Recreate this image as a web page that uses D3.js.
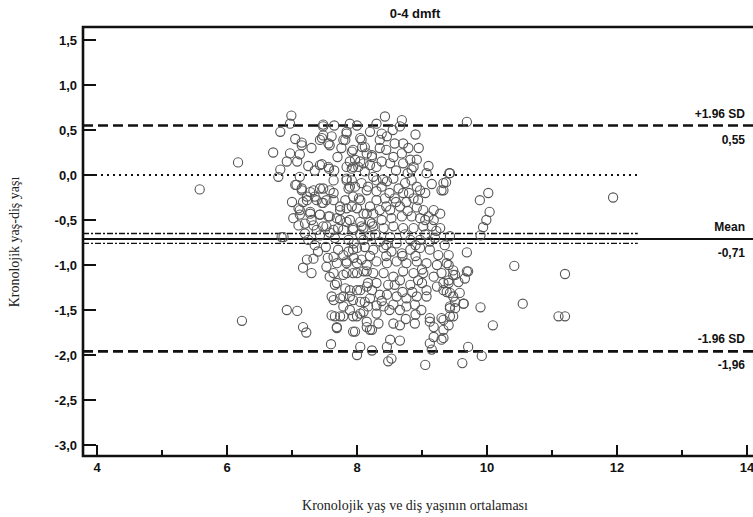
<!DOCTYPE html>
<html>
<head>
<meta charset="utf-8">
<script src="https://cdn.jsdelivr.net/npm/d3@7"></script>
<style>
  body { margin: 0; background: #fff; }
  svg text { font-family: "Liberation Sans", Arial, sans-serif; }
  .serif { font-family: "Liberation Serif", "Times New Roman", serif !important; }
</style>
</head>
<body>
<svg id="chart"></svg>
<script>
// Bland-Altman: mean of chronological and dental age vs. their difference
let title = '0-4 dmft'
let xTitle = 'Kronolojik yaş ve diş yaşının ortalaması'
let yTitle = 'Kronolojik yaş-diş yaşı'

let xTicks = [4, 6, 8, 10, 12, 14]
let xMinorTicks = [5, 7, 9, 11, 13]
let yTicks = [1.5, 1.0, 0.5, 0.0, -0.5, -1.0, -1.5, -2.0, -2.5, -3.0]

let meanDiff = -0.71
let upperLimit = 0.55
let lowerLimit = -1.96
let meanCI = [-0.65, -0.76]
let lineEnd = 12.32 // dotted / dash-dot lines stop here

// [average age, difference]
let points = [
  [6.99, 0.66], [6.97, 0.57], [6.82, 0.48], [7.05, 0.40], [7.15, 0.36], [6.71, 0.25],
  [6.97, 0.24], [7.12, 0.23], [6.92, 0.15], [7.08, 0.15], [6.17, 0.14], [6.82, 0.06],
  [7.46, 0.12], [7.57, 0.07], [7.48, 0.54], [7.46, 0.41], [7.61, 0.43], [7.56, 0.35],
  [7.89, 0.57], [7.84, 0.48], [7.79, 0.39], [7.94, 0.28], [8.07, 0.39], [8.12, 0.31],
  [5.58, -0.16], [6.79, -0.02], [7.05, -0.11], [7.15, -0.15], [7.23, -0.24], [7.33, -0.17],
  [7.48, -0.15], [7.64, -0.20], [7.12, -0.39], [7.28, -0.41], [7.17, -0.30], [7.10, -0.56],
  [7.38, -0.28], [7.48, -0.31], [7.64, -0.28], [7.74, -0.39], [7.69, -0.48], [7.56, -0.46],
  [7.43, -0.44], [7.30, -0.50], [7.38, -0.61], [7.53, -0.57], [7.71, -0.59], [7.84, -0.52],
  [7.92, -0.35], [8.05, -0.28], [8.15, -0.43], [8.23, -0.54], [7.94, -0.61], [8.07, -0.57],
  [8.17, -0.13], [8.25, -0.02], [7.89, -0.13], [7.84, -0.06], [7.94, 0.09], [8.05, 0.15],
  [8.12, 0.04], [7.84, 0.09], [8.23, 0.22], [6.84, -0.69],
  [7.48, 0.56], [8.30, 0.57], [8.43, 0.65], [8.69, 0.61], [8.66, 0.54], [9.69, 0.59],
  [7.48, 0.44], [7.43, 0.39], [7.58, 0.33], [7.15, 0.33], [7.84, 0.46], [7.82, 0.39],
  [7.76, 0.30], [7.92, 0.26], [8.05, 0.41], [8.08, 0.31], [7.97, 0.17], [8.15, 0.24],
  [8.23, 0.20], [8.35, 0.39], [8.35, 0.30], [8.46, 0.43], [8.38, 0.46], [8.71, 0.35],
  [8.79, 0.30], [8.69, 0.24], [8.82, 0.17], [8.71, 0.13], [8.87, 0.09], [8.92, 0.17],
  [8.84, 0.06], [8.56, 0.20], [8.51, 0.13], [8.38, 0.15], [8.30, 0.09], [8.20, 0.11],
  [8.10, 0.13], [8.02, 0.09], [7.92, 0.07], [7.89, 0.15], [7.43, 0.11], [7.56, 0.09],
  [9.07, 0.02], [9.43, 0.02], [9.33, -0.09], [9.30, -0.17],
  [7.12, -0.02], [7.07, -0.11], [7.15, -0.17], [7.28, -0.19], [7.23, -0.28], [7.35, -0.24],
  [7.43, -0.15], [7.58, -0.17], [7.53, -0.28], [7.46, -0.31], [7.64, -0.06], [7.84, -0.04],
  [7.92, -0.06], [7.97, -0.13], [7.87, -0.15], [8.07, -0.09], [8.15, -0.17], [8.30, -0.06],
  [8.38, -0.13], [8.46, -0.07], [8.56, -0.04], [8.64, -0.15], [8.74, -0.09], [8.84, -0.06],
  [8.92, -0.13], [8.97, -0.17], [8.71, -0.20], [8.58, -0.26], [8.43, -0.26], [8.30, -0.28],
  [8.20, -0.35], [8.03, -0.26], [7.94, -0.24], [7.82, -0.28], [7.74, -0.35], [7.84, -0.37],
  [8.00, -0.37], [8.10, -0.43], [8.25, -0.43], [8.35, -0.39], [8.51, -0.39], [8.66, -0.35],
  [8.76, -0.30], [8.87, -0.26], [8.94, -0.28], [9.02, -0.39], [9.18, -0.39], [9.10, -0.46],
  [9.18, -0.50], [8.97, -0.48], [8.84, -0.46], [8.69, -0.46], [8.53, -0.48], [8.38, -0.50],
  [8.20, -0.52], [8.05, -0.52], [7.89, -0.50], [7.74, -0.50], [7.58, -0.46], [7.43, -0.44],
  [7.28, -0.43], [7.12, -0.44], [7.10, -0.37], [7.20, -0.54], [7.33, -0.56], [7.48, -0.57],
  [7.64, -0.61], [7.79, -0.61], [7.94, -0.59], [8.10, -0.59], [8.25, -0.57], [8.41, -0.59],
  [8.56, -0.57], [8.71, -0.59], [8.87, -0.59], [9.02, -0.57], [9.15, -0.57], [9.28, -0.59],
  [9.42, 0.02], [9.37, -0.08], [9.33, -0.17], [10.02, -0.20], [9.89, -0.28], [10.04, -0.41],
  [9.99, -0.50], [9.94, -0.58], [9.90, -0.67], [9.69, -0.86], [10.42, -1.01], [11.20, -1.10],
  [10.55, -1.43], [11.10, -1.57], [11.20, -1.57], [9.90, -1.47], [10.09, -1.67], [9.71, -1.91],
  [9.71, -1.07], [9.66, -1.15], [9.48, -1.11], [9.41, -1.00], [9.41, -1.20], [9.33, -1.28],
  [9.43, -1.31], [9.58, -1.31], [9.51, -1.41], [9.64, -1.43], [9.43, -1.48], [9.33, -1.61],
  [9.48, -1.57], [9.41, -1.67], [9.33, -1.81], [9.28, -0.43], [11.94, -0.25],
  [6.87, -0.69], [7.17, -1.03], [7.30, -1.09], [7.23, -0.94], [7.33, -0.93], [6.92, -1.50],
  [7.08, -1.51], [6.23, -1.62], [7.17, -1.69], [7.22, -1.75], [7.60, -1.88], [8.05, -1.91],
  [8.00, -2.00], [8.23, -1.95], [7.94, -1.74], [7.61, -1.56], [7.69, -1.69], [7.61, -1.35],
  [7.58, -1.13], [7.69, -1.20], [7.53, -1.02], [7.64, -0.91], [7.79, -0.89], [7.84, -0.98],
  [7.94, -0.83], [8.07, -0.94], [8.15, -1.07], [8.00, -1.09], [7.84, -1.09], [7.89, -1.28],
  [8.05, -1.28], [8.17, -1.20], [7.79, -1.46], [7.74, -1.57], [7.89, -1.50], [8.05, -1.54],
  [8.17, -1.46], [8.15, -1.69], [8.23, -1.72], [8.00, -1.57], [8.12, -1.41], [7.94, -1.39],
  [7.79, -1.35], [8.23, -1.28],
  [9.92, -2.01], [9.62, -2.09], [9.05, -2.11], [8.48, -2.07], [8.53, -2.04], [8.51, -1.83],
  [8.66, -1.84], [8.46, -1.91], [9.12, -1.87], [9.18, -1.80], [9.15, -1.94], [9.30, -1.83],
  [9.33, -1.72], [9.18, -1.69], [9.12, -1.59], [9.30, -1.59], [9.43, -1.57], [9.43, -1.46],
  [9.51, -1.48], [9.64, -1.43], [9.48, -1.35], [9.38, -1.30], [9.33, -1.20], [9.41, -1.17],
  [9.51, -1.11], [9.69, -1.07],
  [8.89, -1.65], [8.99, -1.50], [9.12, -1.63], [8.66, -1.67], [8.56, -1.65], [8.33, -1.65],
  [8.20, -1.72], [8.15, -1.63], [7.97, -1.74], [7.69, -1.70], [7.66, -1.57], [7.79, -1.57],
  [7.94, -1.57], [8.10, -1.52], [8.30, -1.54], [8.41, -1.46], [8.56, -1.44], [8.66, -1.50],
  [8.76, -1.46], [8.89, -1.44], [9.07, -1.35], [8.92, -1.35], [8.76, -1.37], [8.61, -1.35],
  [8.46, -1.33], [8.35, -1.33], [8.20, -1.37], [8.05, -1.41], [7.89, -1.35], [7.74, -1.37],
  [7.64, -1.39], [7.66, -1.22], [7.82, -1.26], [8.00, -1.28], [8.15, -1.24], [8.30, -1.20],
  [8.48, -1.22], [8.66, -1.17], [8.82, -1.22], [8.94, -1.17], [9.07, -1.28], [9.23, -1.24],
  [9.18, -1.13], [9.30, -1.09], [9.02, -1.09], [8.87, -1.09], [8.71, -1.07], [8.56, -1.13],
  [8.41, -1.09], [8.25, -1.09], [8.10, -1.07], [7.94, -1.09], [7.79, -1.11], [7.64, -1.09],
  [7.69, -0.98], [7.84, -0.96], [8.00, -0.98], [8.15, -1.00], [8.30, -0.96], [8.46, -0.98],
  [8.61, -0.96], [8.76, -0.98], [8.92, -0.96], [9.07, -0.98], [9.23, -1.00], [9.38, -0.98],
  [9.48, -1.06], [9.56, -1.19], [7.71, -0.83], [7.87, -0.85], [8.00, -0.81], [8.12, -0.80],
  [8.25, -0.83], [8.41, -0.81], [8.53, -0.85], [8.69, -0.87], [8.82, -0.83], [8.97, -0.81],
  [9.12, -0.83], [9.25, -0.89], [9.41, -0.89], [8.61, -0.76], [8.97, -0.72], [8.35, -0.74],
  [8.10, -0.72], [7.87, -0.72], [7.43, -0.67], [7.66, -0.70], [8.51, -0.69], [8.82, -0.72],
  [9.20, -0.70], [9.43, -0.68], [7.25, -0.72], [8.74, -0.66], [9.05, -0.66], [8.20, -0.68],
  [7.35, -0.78], [7.52, -0.80], [7.95, -0.76], [8.28, -0.66], [8.45, -0.78], [8.90, -0.78],
  [9.12, -0.74], [9.35, -0.78], [7.58, -0.64], [8.05, -0.66], [8.45, -0.35], [8.60, -0.30],
  [8.78, -0.40], [8.92, -0.36], [8.40, -0.05], [8.60, 0.05], [8.78, 0.02], [8.50, -0.20],
  [8.30, -0.18], [8.80, -0.20], [8.45, 0.28], [8.58, 0.35], [8.55, 0.50], [8.20, 0.48],
  [8.00, 0.55], [7.65, 0.55], [7.30, 0.30], [7.35, 0.05], [7.25, 0.10], [7.70, 0.20],
  [7.65, 0.05], [8.38, -1.40], [8.70, -1.30], [8.85, -1.30], [9.00, -1.20], [8.50, -1.50],
  [8.90, -1.55], [8.75, -1.60], [8.30, -1.45], [8.58, -1.22], [9.00, -1.05], [8.90, -0.90],
  [8.70, -0.90], [8.45, -0.90], [8.20, -0.90], [7.95, -0.92], [7.55, -0.92], [7.40, -0.85],
  [9.05, -0.50], [9.22, -0.62], [9.05, -0.20], [9.15, -0.10], [9.10, 0.10], [8.95, 0.30],
  [8.90, 0.45], [7.20, -0.65], [7.00, -0.30], [7.02, -0.48]
]

let width = 753
let height = 517
let frame = { left: 83, top: 27, bottom: 456 }

let svg = d3.select('#chart').attr('width', width).attr('height', height)

let xScale = d3.scaleLinear().domain([4, 14]).range([97, 747])
let yScale = d3.scaleLinear().domain([-3, 1.5]).range([445, 40])
let fmt = v => d3.format('.1f')(v).replace('.', ',').replace('−', '-')

// plot frame (right edge falls outside the picture)
svg.append('path')
  .attr('d', `M${width + 5},${frame.top}H${frame.left}V${frame.bottom}H${width + 5}`)
  .attr('fill', 'none')
  .attr('stroke', '#111')
  .attr('stroke-width', 2.6)

// y ticks point inward from the frame
svg.selectAll('line.ytick')
  .data(yTicks)
  .join('line')
  .attr('class', 'ytick')
  .attr('x1', frame.left)
  .attr('x2', frame.left + 13)
  .attr('y1', d => yScale(d))
  .attr('y2', d => yScale(d))
  .attr('stroke', '#111')
  .attr('stroke-width', 2)

svg.selectAll('text.ylab')
  .data(yTicks)
  .join('text')
  .attr('class', 'ylab')
  .attr('x', 77)
  .attr('y', d => yScale(d) + 5)
  .attr('text-anchor', 'end')
  .attr('font-size', 13)
  .attr('font-weight', 'bold')
  .attr('fill', '#111')
  .text(fmt)

// x ticks, major and minor
svg.selectAll('line.xtick')
  .data(xTicks.concat(xMinorTicks))
  .join('line')
  .attr('class', 'xtick')
  .attr('x1', d => xScale(d))
  .attr('x2', d => xScale(d))
  .attr('y1', frame.bottom)
  .attr('y2', d => frame.bottom - (d % 2 === 0 ? 11 : 6))
  .attr('stroke', '#111')
  .attr('stroke-width', 2)

svg.selectAll('text.xlab')
  .data(xTicks)
  .join('text')
  .attr('class', 'xlab')
  .attr('x', d => xScale(d))
  .attr('y', 472)
  .attr('text-anchor', 'middle')
  .attr('font-size', 13)
  .attr('font-weight', 'bold')
  .attr('fill', '#111')
  .text(d => d)

// reference lines
let refLines = [
  { y: upperLimit, x2: 14.2, dash: '10,5', w: 2.6 },
  { y: lowerLimit, x2: 14.2, dash: '10,5', w: 2.6 },
  { y: 0, x2: lineEnd, dash: '2,4', w: 2.2 },
  { y: meanDiff, x2: 14.2, dash: null, w: 2 },
  { y: meanCI[0], x2: lineEnd, dash: '6,2,2,2', w: 1.3 },
  { y: meanCI[1], x2: lineEnd, dash: '6,2,2,2', w: 1.3 },
]
svg.selectAll('line.ref')
  .data(refLines)
  .join('line')
  .attr('class', 'ref')
  .attr('x1', frame.left)
  .attr('x2', d => xScale(d.x2))
  .attr('y1', d => yScale(d.y))
  .attr('y2', d => yScale(d.y))
  .attr('stroke', '#111')
  .attr('stroke-width', d => d.w)
  .attr('stroke-dasharray', d => d.dash)

// points: open circles
svg.append('g')
  .selectAll('circle')
  .data(points)
  .join('circle')
  .attr('cx', d => xScale(d[0]))
  .attr('cy', d => yScale(d[1]))
  .attr('r', 4.6)
  .attr('fill', 'none')
  .attr('stroke', '#555')
  .attr('stroke-width', 1.1)

// labels on the right
let refLabels = [
  { v: upperLimit, above: '+1.96 SD' },
  { v: meanDiff, above: 'Mean' },
  { v: lowerLimit, above: '-1.96 SD' },
]
refLabels.forEach(d => {
  svg.append('text')
    .attr('x', 745).attr('y', yScale(d.v) - 8)
    .attr('text-anchor', 'end').attr('font-size', 12).attr('font-weight', 'bold')
    .attr('fill', '#111')
    .text(d.above)
  svg.append('text')
    .attr('x', 745).attr('y', yScale(d.v) + 18)
    .attr('text-anchor', 'end').attr('font-size', 12).attr('font-weight', 'bold')
    .attr('fill', '#111')
    .text(d3.format('.2f')(d.v).replace('.', ',').replace('−', '-'))
})

// titles
svg.append('text')
  .attr('x', 415).attr('y', 18)
  .attr('text-anchor', 'middle').attr('font-size', 13).attr('font-weight', 'bold')
  .attr('fill', '#111')
  .text(title)

svg.append('text')
  .attr('class', 'serif')
  .attr('x', 415).attr('y', 510)
  .attr('text-anchor', 'middle').attr('font-size', 14)
  .attr('fill', '#222')
  .text(xTitle)

svg.append('text')
  .attr('class', 'serif')
  .attr('transform', 'translate(19,242) rotate(-90)')
  .attr('text-anchor', 'middle').attr('font-size', 14)
  .attr('fill', '#222')
  .text(yTitle)
</script>
</body>
</html>
